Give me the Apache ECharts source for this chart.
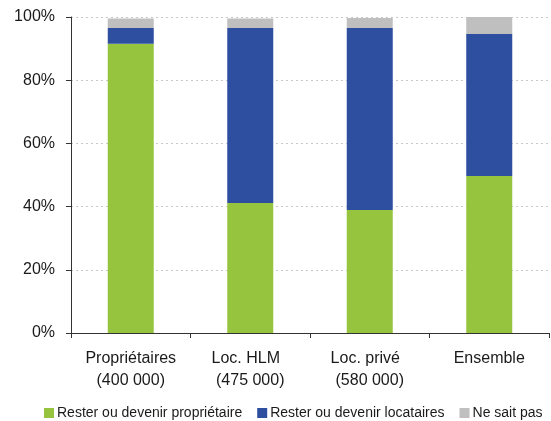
<!DOCTYPE html>
<html>
<head>
<meta charset="utf-8">
<script src="https://cdn.jsdelivr.net/npm/echarts@6/dist/echarts.min.js"></script>
<style>
  html, body { margin: 0; padding: 0; background: #fff; }
  #chart { width: 551px; height: 421px; }
</style>
</head>
<body>
<div id="chart"></div>
<script>
// Categories (household status, with household counts)
var categories = ['Propriétaires\n(400 000)', 'Loc. HLM  \n(475 000)', 'Loc. privé  \n(580 000)', 'Ensemble'];
// Shares of answers, in %
var resterProprietaire = [91.5, 41.1, 38.9, 49.7];
var resterLocataires = [5.0, 55.4, 57.6, 44.9];
var neSaitPas = [3.0, 3.0, 3.2, 5.4];
var seriesNames = ['Rester ou devenir propriétaire', 'Rester ou devenir locataires', 'Ne sait pas'];
var colors = ['#97C43E', '#2E4EA0', '#BFBFBF'];

var font = 'Liberation Sans, Arial, sans-serif';
var chart = echarts.init(document.getElementById('chart'), null, { renderer: 'canvas' });

function bar(name, data, color) {
  return {
    name: name,
    type: 'bar',
    stack: 'total',
    data: data,
    barWidth: 46,
    itemStyle: { color: color },
    emphasis: { disabled: true }
  };
}

chart.setOption({
  animation: false,
  color: colors,
  textStyle: { fontFamily: font, color: '#1a1a1a' },
  grid: { left: 71, right: 2, top: 17, bottom: 88, containLabel: false },
  legend: {
    left: 39,
    top: 401,
    itemWidth: 10,
    itemHeight: 10,
    itemGap: 15,
    icon: 'rect',
    textStyle: { fontSize: 14, color: '#1a1a1a', fontFamily: font, padding: [0, 0, 0, -2] },
    data: seriesNames
  },
  xAxis: {
    type: 'category',
    data: categories,
    boundaryGap: true,
    axisLine: { lineStyle: { color: '#333', width: 1 } },
    axisTick: { show: true, length: 5, alignWithLabel: false, lineStyle: { color: '#333' } },
    axisLabel: {
      fontSize: 16,
      color: '#1a1a1a',
      lineHeight: 22,
      margin: 15,
      interval: 0
    },
    splitLine: { show: false }
  },
  yAxis: {
    type: 'value',
    min: 0,
    max: 100,
    interval: 20,
    axisLine: { show: true, lineStyle: { color: '#333', width: 1 } },
    axisTick: { show: true, length: 5, lineStyle: { color: '#333' } },
    axisLabel: {
      formatter: '{value}%',
      fontSize: 16,
      color: '#1a1a1a',
      margin: 16
    },
    splitLine: { show: true, lineStyle: { color: '#c8c8c8', type: [2, 3], width: 1 } }
  },
  series: [
    bar(seriesNames[0], resterProprietaire, colors[0]),
    bar(seriesNames[1], resterLocataires, colors[1]),
    bar(seriesNames[2], neSaitPas, colors[2])
  ]
});
</script>
</body>
</html>
